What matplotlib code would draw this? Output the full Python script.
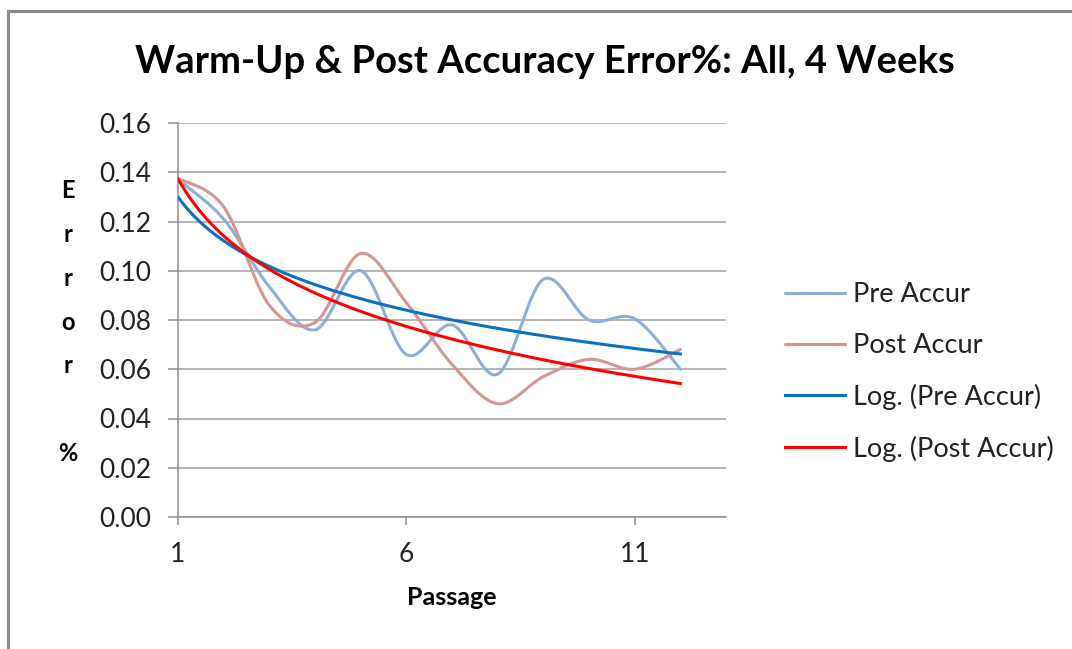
import numpy as np
import matplotlib
matplotlib.use("Agg")
import matplotlib.pyplot as plt
from matplotlib.lines import Line2D

# ---- data ----
passage = [1, 2, 3, 4, 5, 6, 7, 8, 9, 10, 11, 12]
pre_accur = [0.137, 0.121, 0.0935, 0.076, 0.100, 0.066, 0.078, 0.058, 0.0965, 0.080, 0.0805, 0.060]
post_accur = [0.1375, 0.126, 0.086, 0.079, 0.107, 0.087, 0.062, 0.046, 0.057, 0.064, 0.060, 0.068]

y_ticks = [0.00, 0.02, 0.04, 0.06, 0.08, 0.10, 0.12, 0.14, 0.16]
x_ticks = [1, 6, 11]

TITLE = "Warm-Up & Post Accuracy Error%: All, 4 Weeks"
FONT = ["Lato", "DejaVu Sans"]

C_PRE = "#8cafd9"
C_POST = "#d69593"
C_LOG_PRE = "#0a70c2"
C_LOG_POST = "#ff0000"
C_GRID = "#a0a0a0"


def excel_smooth(x, y, n=40):
    """Bezier smoothing through the points, like Excel's 'smoothed line'."""
    pts = np.column_stack([x, y]).astype(float)
    P = np.vstack([pts[0], pts, pts[-1]])
    t = np.linspace(0, 1, n)[:, None]
    segs = []
    for i in range(1, len(P) - 2):
        p0, p1, p2, p3 = P[i - 1], P[i], P[i + 1], P[i + 2]
        c1 = p1 + (p2 - p0) / 6
        c2 = p2 - (p3 - p1) / 6
        seg = (1 - t) ** 3 * p1 + 3 * (1 - t) ** 2 * t * c1 + 3 * (1 - t) * t ** 2 * c2 + t ** 3 * p2
        segs.append(seg)
    s = np.vstack(segs)
    return s[:, 0], s[:, 1]


plt.rcParams["font.family"] = FONT

fig = plt.figure(figsize=(10.72, 6.49), dpi=100)
ax = fig.add_axes([178 / 1072, 1 - 517 / 649, (726 - 178) / 1072, (517 - 123) / 649])

x = np.array(passage, dtype=float)

sx, sy = excel_smooth(x, pre_accur)
ax.plot(sx, sy, color=C_PRE, lw=2.2, label="Pre Accur", zorder=3, solid_capstyle="round")
sx, sy = excel_smooth(x, post_accur)
ax.plot(sx, sy, color=C_POST, lw=2.2, label="Post Accur", zorder=3, solid_capstyle="round")

# logarithmic trend lines, y = a*ln(x) + b
xt = np.linspace(1, 12, 200)
a, b = np.polyfit(np.log(x), pre_accur, 1)
ax.plot(xt, a * np.log(xt) + b, color=C_LOG_PRE, lw=2.2, label="Log. (Pre Accur)", zorder=4)
a, b = np.polyfit(np.log(x), post_accur, 1)
ax.plot(xt, a * np.log(xt) + b, color=C_LOG_POST, lw=2.2, label="Log. (Post Accur)", zorder=4)

ax.set_xlim(1, 13)
ax.set_ylim(0, 0.16)
ax.set_yticks(y_ticks)
ax.set_yticklabels([f"{v:.2f}" for v in y_ticks])
ax.set_xticks(x_ticks)
ax.set_xticklabels([str(v) for v in x_ticks])

ax.grid(axis="y", color=C_GRID, lw=1.1)
ax.set_axisbelow(True)
for side in ["top", "right"]:
    ax.spines[side].set_visible(False)
for side in ["left", "bottom"]:
    ax.spines[side].set_color("#909090")
    ax.spines[side].set_linewidth(1.1)

ax.tick_params(axis="y", length=7, width=1.1, color="#909090", labelsize=19,
               labelcolor="#222222", pad=12)
ax.tick_params(axis="x", length=6, width=1.1, color="#909090", labelsize=19,
               labelcolor="#222222", pad=12)

ax.set_xlabel("Passage", fontsize=18, fontweight="bold", labelpad=14)

# stacked vertical y label, as Excel draws it
fig.text(68 / 1072, 1 - 322 / 649, "E\nr\nr\no\nr\n\n%", ha="center", va="center",
         fontsize=17, fontweight="bold", linespacing=2.1)

fig.text(545 / 1072, 1 - 62 / 649, TITLE, ha="center", va="center",
         fontsize=27.5, fontweight="bold")

leg = fig.legend(loc="center left", bbox_to_anchor=(785 / 1072, 1 - 372 / 649),
                 frameon=False, fontsize=19.5, handlelength=2.2, handletextpad=0.3,
                 labelspacing=0.95, borderpad=0, borderaxespad=0)
for t in leg.get_texts():
    t.set_color("#222222")

# chart-area border (only top and left visible in the crop)
bx, by = 8 / 1072, 1 - 11 / 649
fig.add_artist(Line2D([bx, bx], [0, by], color="#8a8a8a", lw=2.2))
fig.add_artist(Line2D([bx, 1], [by, by], color="#8a8a8a", lw=2.2))

fig.savefig("out.png", dpi=100)
